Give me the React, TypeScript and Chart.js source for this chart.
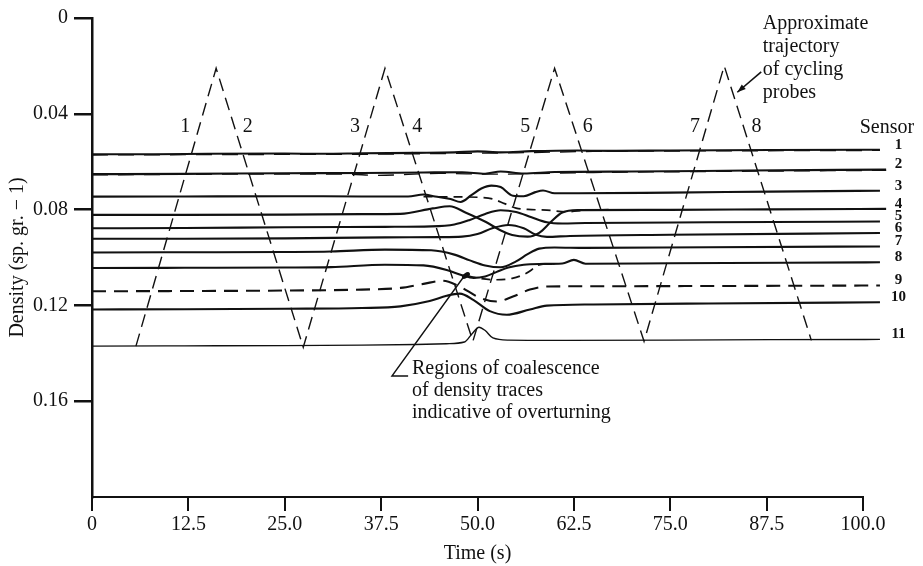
import React, { useEffect, useRef } from 'react';
import { Chart, registerables } from 'chart.js';

Chart.register(...registerables);

type Pt = [number, number]; // [time (s), density (sp. gr. - 1)]

const INK = '#111';
const SERIF = '"Liberation Serif", "Times New Roman", serif';

// Axis ticks
const X_TICKS = [0, 12.5, 25, 37.5, 50, 62.5, 75, 87.5, 100];
const Y_TICKS = [0, 0.04, 0.08, 0.12, 0.16];

// Path of the cycling probes (zig-zag)
const probePath: Pt[] = [
  [5.7, 0.137], [16.1, 0.021], [27.4, 0.1375], [38.0, 0.021], [49.4, 0.135],
  [60.0, 0.021], [71.6, 0.135], [82.0, 0.020], [93.3, 0.1346],
];
const probeLegLabels = ['1', '2', '3', '4', '5', '6', '7', '8'];
const probeLegLabelTimes = [12.1, 20.2, 34.1, 42.2, 56.2, 64.3, 78.2, 86.2];
const probeLegLabelDensity = 0.0455;

// Fixed-sensor density traces
const sensor1: Pt[] = [[0, .0569], [8, .0569], [15, .0567], [25, .0566], [30, .0567], [35, .0565], [42, .0563], [47, .0561], [50, .0557], [53, .0561], [57, .0556], [63, .0553], [68, .0555], [75, .0553], [88, .0551], [102.2, .0550]];
const sensor2: Pt[] = [[0, .0652], [12, .0651], [25, .0648], [35, .0647], [43, .0645], [48, .0644], [51, .0650], [53, .0641], [56, .0649], [60, .0643], [70, .0641], [85, .0637], [103, .0633]];
const sensor3: Pt[] = [[0, .0746], [12, .0745], [25, .0744], [35, .0745], [41, .0745], [43, .0737], [44.5, .0745], [46.5, .0756], [47.8, .0768], [49.2, .0740], [50.5, .0712], [51.8, .0700], [53, .0706], [54.6, .0742], [56, .0744], [57.5, .0727], [58.5, .0720], [60, .0732], [63, .0732], [75, .0729], [88, .0725], [102.2, .0721]];
const sensor4: Pt[] = [[0, .0822], [12, .0822], [25, .0821], [35, .0819], [40, .0818], [44.2, .0795], [46.4, .0786], [48.5, .0813], [51.1, .0852], [52.9, .0885], [54.5, .0906], [56.5, .0913], [58, .0897], [59.5, .0852], [61, .0812], [63, .0802], [75, .0801], [88, .0799], [103, .0797]];
const sensor5: Pt[] = [[0, .0878], [12, .0877], [25, .0874], [38, .0872], [44, .0870], [47, .0862], [49, .0843], [51, .0818], [53, .0803], [55, .0810], [57, .0832], [59, .0853], [61, .0858], [64, .0856], [80, .0853], [102.2, .0850]];
const sensor6: Pt[] = [[0, .0922], [12, .0922], [25, .0920], [38, .0916], [45, .0915], [48, .0913], [50, .0902], [52, .0877], [54, .0864], [56, .0878], [57.5, .0904], [59, .0914], [62, .0910], [75, .0905], [102.2, .0898]];
const sensor7: Pt[] = [[0, .0979], [12, .0978], [25, .0977], [31, .0975], [38, .0967], [44, .0970], [47, .0988], [49, .1012], [51, .1033], [53, .1041], [55, .1016], [56.5, .0986], [58, .0963], [60, .0958], [64, .0960], [80, .0957], [102.2, .0954]];
const sensor8: Pt[] = [[0, .1044], [12, .1043], [25, .1042], [31, .1040], [38, .1030], [43, .1033], [46, .1052], [48, .1074], [49.5, .1085], [51, .1079], [52.5, .1060], [54, .1042], [56, .1030], [58, .1027], [61, .1025], [62.5, .1010], [64, .1026], [75, .1024], [90, .1022], [102.2, .1020]];
const sensor9: Pt[] = [[0, .1141], [12, .1140], [25, .1138], [35, .1134], [40, .1127], [43, .1110], [45.5, .1097], [47.5, .1118], [50.3, .1168], [52.5, .1184], [54.6, .1163], [56.8, .1134], [59, .1121], [65, .1120], [80, .1119], [102.2, .1117]];
const sensor10: Pt[] = [[0, .1217], [12, .1216], [25, .1214], [35, .1211], [40, .1204], [43.8, .1182], [46, .1160], [47.7, .1151], [49.5, .1178], [51.6, .1224], [53.8, .1239], [56.8, .1217], [59, .1201], [65, .1196], [80, .1192], [102.2, .1187]];
const sensor11: Pt[] = [[0, .1370], [12, .1369], [25, .1368], [35, .1366], [42, .1363], [46, .1360], [48.3, .1353], [49.3, .1318], [50.2, .1291], [51, .1305], [52, .1336], [54, .1345], [60, .1346], [75, .1345], [88, .1343], [102.2, .1342]];

// Second (dashed) passes that run alongside some sensors
const pass1: Pt[] = [[0, .0572], [20, .0570], [35, .0569], [45, .0566], [55, .0563], [65, .0557], [80, .0555], [102.2, .0553]];
const pass2: Pt[] = [[0, .0655], [20, .0652], [33, .0652], [37, .0657], [45, .0649], [52, .0652], [65, .0645], [80, .0641], [103, .0636]];
const pass3: Pt[] = [[43, .0746], [47, .0747], [50.3, .0749], [52, .0756], [53.5, .0775], [55, .0794], [57, .0800], [59, .0802], [61.5, .0809], [64, .0803], [67, .0800]];
const pass8: Pt[] = [[48.6, .1076], [50.5, .1088], [52.5, .1093], [54.5, .1087], [56, .1071], [57, .1052], [57.6, .1036], [58.5, .1028], [60, .1026]];

const sensorTraces = [sensor1, sensor2, sensor3, sensor4, sensor5, sensor6, sensor7, sensor8, sensor9, sensor10, sensor11];
const dashedSensors = [9];
const sensorLabelTime = 104.6;
const sensorHeader = 'Sensor';
const sensorHeaderAt: Pt = [103.1, 0.0457];

// Notes
const probeNoteLines = ['Approximate', 'trajectory', 'of cycling', 'probes'];
const probeNoteAt: Pt = [87.0, 0.0025];
const probeArrow: Pt[] = [[86.8, 0.0225], [83.7, 0.0310]];

const regionNoteLines = ['Regions of coalescence', 'of density traces', 'indicative of overturning'];
const regionNoteAt: Pt = [41.5, 0.1466];
const regionPointer: Pt[] = [[41.0, 0.1495], [38.9, 0.1495], [48.4, 0.1072]];
const coalescenceSpot: Pt = [48.5, 0.1075];

const toXY = (pts: Pt[]) => pts.map(([x, y]) => ({ x, y }));

const notesPlugin = {
  id: 'notes',
  afterDatasetsDraw(chart: any) {
    const { ctx, scales } = chart;
    const px = (t: number) => scales.x.getPixelForValue(t);
    const py = (d: number) => scales.y.getPixelForValue(d);
    ctx.save();
    ctx.fillStyle = INK;
    ctx.strokeStyle = INK;

    // probe leg numbers
    ctx.font = `20px ${SERIF}`;
    ctx.textAlign = 'center';
    ctx.textBaseline = 'middle';
    probeLegLabels.forEach((s, i) => ctx.fillText(s, px(probeLegLabelTimes[i]), py(probeLegLabelDensity)));

    // sensor header and numbers
    ctx.fillText(sensorHeader, px(sensorHeaderAt[0]), py(sensorHeaderAt[1]));
    ctx.font = `bold 15px ${SERIF}`;
    sensorTraces.forEach((tr, i) => {
      const last = tr[tr.length - 1];
      ctx.fillText(String(i + 1), px(sensorLabelTime), py(last[1]) - 5);
    });

    // probe trajectory note
    ctx.font = `20px ${SERIF}`;
    ctx.textAlign = 'left';
    probeNoteLines.forEach((s, i) => ctx.fillText(s, px(probeNoteAt[0]), py(probeNoteAt[1]) + i * 23));
    const [a0, a1] = probeArrow;
    const x0 = px(a0[0]), y0 = py(a0[1]), x1 = px(a1[0]), y1 = py(a1[1]);
    ctx.lineWidth = 1.6;
    ctx.beginPath();
    ctx.moveTo(x0, y0);
    ctx.lineTo(x1, y1);
    ctx.stroke();
    const ang = Math.atan2(y1 - y0, x1 - x0);
    ctx.beginPath();
    ctx.moveTo(x1, y1);
    ctx.lineTo(x1 - 9 * Math.cos(ang - 0.35), y1 - 9 * Math.sin(ang - 0.35));
    ctx.lineTo(x1 - 9 * Math.cos(ang + 0.35), y1 - 9 * Math.sin(ang + 0.35));
    ctx.closePath();
    ctx.fill();

    // overturning note
    regionNoteLines.forEach((s, i) => ctx.fillText(s, px(regionNoteAt[0]), py(regionNoteAt[1]) + i * 22));
    ctx.lineWidth = 1.4;
    ctx.beginPath();
    regionPointer.forEach(([t, d], i) => (i ? ctx.lineTo(px(t), py(d)) : ctx.moveTo(px(t), py(d))));
    ctx.stroke();
    ctx.beginPath();
    ctx.ellipse(px(coalescenceSpot[0]), py(coalescenceSpot[1]), 4.5, 2.5, -0.6, 0, Math.PI * 2);
    ctx.fill();

    ctx.restore();
  },
};

export default function App() {
  const ref = useRef<HTMLCanvasElement>(null);

  useEffect(() => {
    const traceSets = sensorTraces.map((tr, i) => ({
      data: toXY(tr),
      borderColor: INK,
      borderWidth: i === 10 ? 1.4 : 2.1,
      borderDash: dashedSensors.includes(i + 1) ? [14, 8] : [],
      cubicInterpolationMode: 'monotone' as const,
      pointRadius: 0,
      clip: false as const,
    }));
    const passSets = [pass1, pass2, pass3, pass8].map((p, i) => ({
      data: toXY(p),
      borderColor: INK,
      borderWidth: i < 2 ? 1.3 : 1.7,
      borderDash: i < 2 ? [16, 10] : [9, 6],
      cubicInterpolationMode: 'monotone' as const,
      pointRadius: 0,
      clip: false as const,
    }));
    const probeSet = {
      data: toXY(probePath),
      borderColor: INK,
      borderWidth: 1.4,
      borderDash: [13, 7],
      tension: 0,
      pointRadius: 0,
      clip: false as const,
    };

    const font = { family: SERIF, size: 20 };
    const chart = new Chart(ref.current!, {
      type: 'line',
      data: { datasets: [...traceSets, ...passSets, probeSet] as any },
      options: {
        responsive: false,
        devicePixelRatio: 1,
        animation: false,
        layout: { padding: { top: 17, right: 60, left: 0, bottom: 0 } },
        plugins: { legend: { display: false }, tooltip: { enabled: false } },
        scales: {
          x: {
            type: 'linear',
            min: 0,
            max: 100,
            afterBuildTicks: (s: any) => { s.ticks = X_TICKS.map((v) => ({ value: v })); },
            afterFit: (s: any) => { s.height = 69; },
            ticks: {
              color: INK,
              font,
              padding: 2,
              maxRotation: 0,
              autoSkip: false,
              callback: (v: any) => (Number(v) === 0 ? '0' : Number(v).toFixed(1)),
            },
            grid: { drawOnChartArea: false, drawTicks: true, tickLength: 14, color: INK, lineWidth: 2 },
            border: { display: true, color: INK, width: 2 },
            title: { display: true, text: 'Time (s)', color: INK, font, padding: { top: 0, bottom: 0 } },
          },
          y: {
            type: 'linear',
            reverse: true,
            min: 0,
            max: 0.2,
            afterBuildTicks: (s: any) => { s.ticks = Y_TICKS.map((v) => ({ value: v })); },
            afterFit: (s: any) => { s.width = 92; },
            ticks: {
              color: INK,
              font,
              padding: 6,
              autoSkip: false,
              callback: (v: any) => (Number(v) === 0 ? '0' : String(Number(v))),
            },
            grid: { drawOnChartArea: false, drawTicks: true, tickLength: 18, color: INK, lineWidth: 2.5 },
            border: { display: true, color: INK, width: 2.5 },
            title: { display: true, text: 'Density (sp. gr. − 1)', color: INK, font, padding: { top: 6, bottom: 0 } },
          },
        },
      },
      plugins: [notesPlugin],
    });
    return () => chart.destroy();
  }, []);

  return (
    <div style={{ position: 'absolute', left: 0, top: 0, width: 923, height: 566, background: '#fff' }}>
      <canvas ref={ref} width={923} height={566} style={{ display: 'block' }} />
    </div>
  );
}
